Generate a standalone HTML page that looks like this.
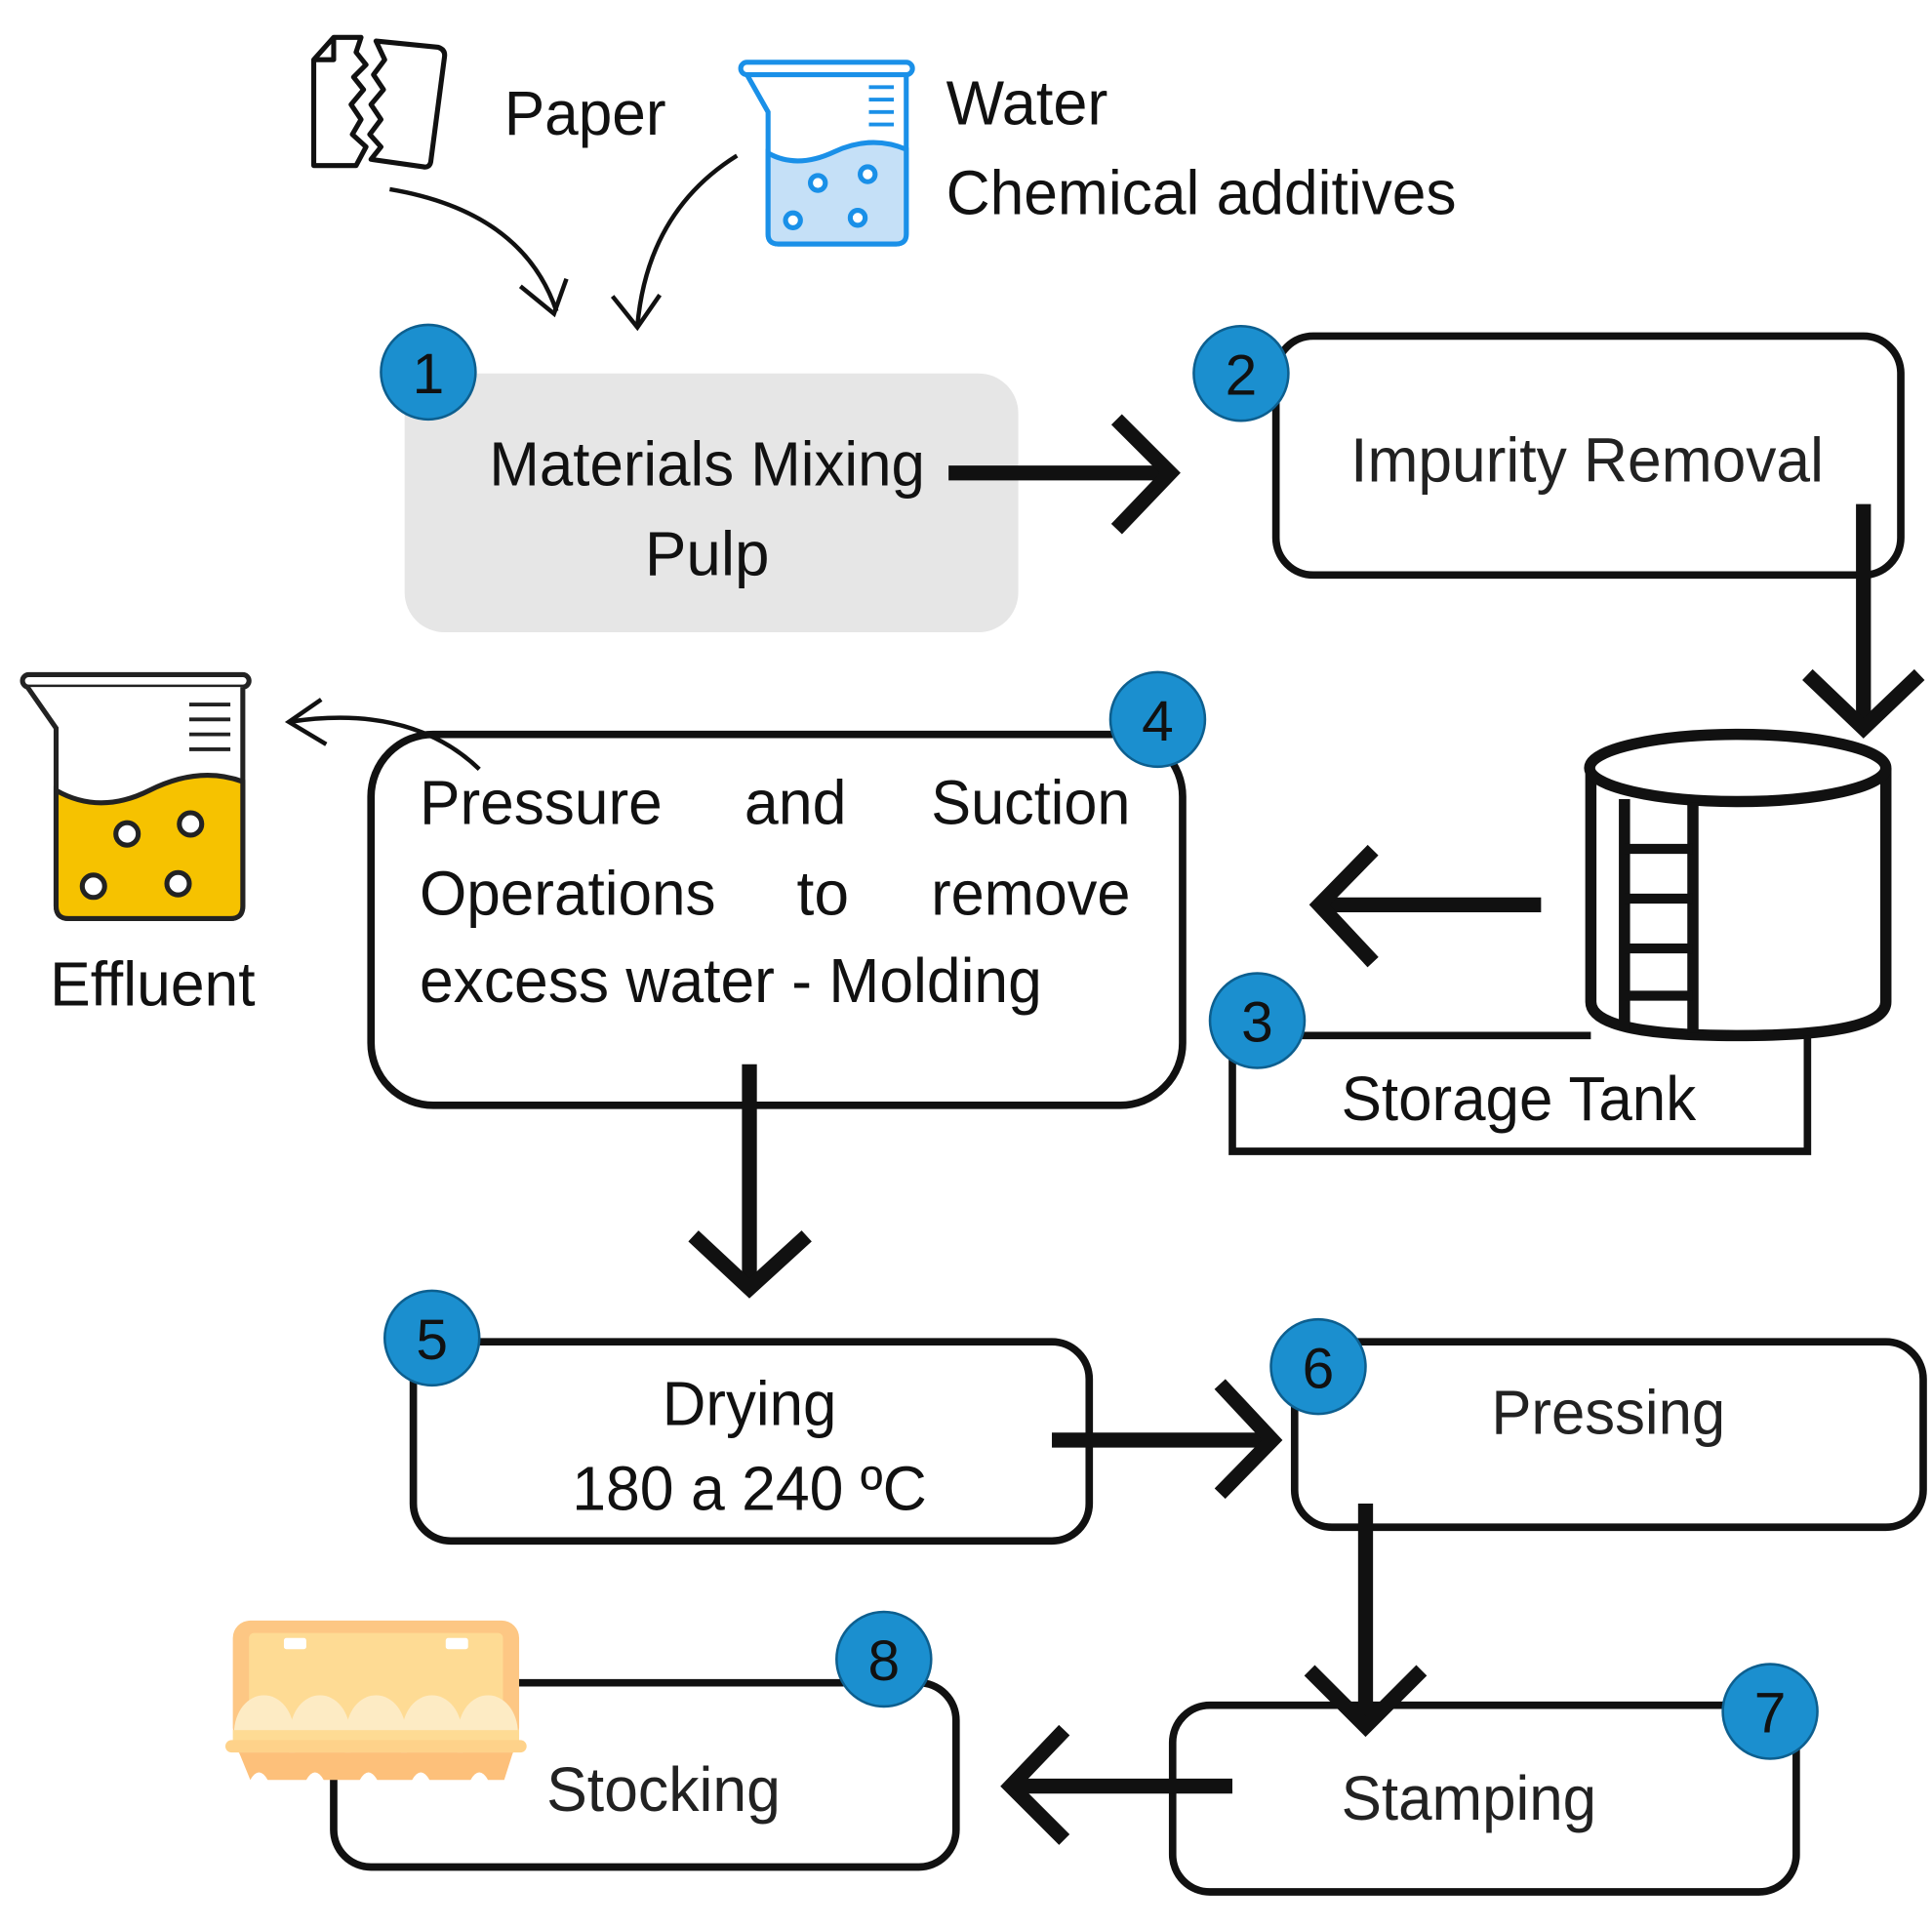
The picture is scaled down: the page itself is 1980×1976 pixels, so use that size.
<!DOCTYPE html>
<html><head><meta charset="utf-8"><style>html,body{margin:0;padding:0;background:#fff}svg{display:block}</style></head>
<body>
<svg xmlns="http://www.w3.org/2000/svg" width="1980" height="1976" viewBox="0 0 1552 1549">
<rect width="1552" height="1549" fill="#fff"/>
<g font-family="Liberation Sans, sans-serif" font-size="50" fill="#111">

<!-- Paper icon -->
<g fill="none" stroke="#111" stroke-width="4" stroke-linejoin="round">
<path d="M268 30 L290 30 L286 42 L294 52 L284 62 L292 72 L282 84 L290 96 L283 108 L294 118 L286 133 L252 133 L252 48 Z M252 48 L268 48 L268 30"/>
<path d="M302 33 L352 38 Q358 40 357 46 L346 130 Q345 135 340 134 L298 128 L306 118 L297 108 L306 96 L298 84 L308 72 L300 60 L309 48 Z"/>
</g>
<text x="405" y="108" textLength="130" lengthAdjust="spacingAndGlyphs">Paper</text>
<!-- Blue beaker -->
<g stroke="#1a90e8" stroke-width="4" fill="none">
<rect x="595" y="50" width="138" height="10" rx="5"/>
<path d="M600 60 L617 90 L617 188 Q617 196 625 196 L720 196 Q728 196 728 188 L728 60"/>
<path d="M617 123 Q640 136 670 122 Q700 108 728 120 L728 188 Q728 196 720 196 L625 196 Q617 196 617 188 Z" fill="#c5e0f7"/>
<path d="M698 70 H718 M698 80 H718 M698 90 H718 M698 100 H718" stroke-width="3"/>
<circle cx="657" cy="147" r="6" fill="#fff"/><circle cx="697" cy="140" r="6" fill="#fff"/>
<circle cx="637" cy="177" r="6" fill="#fff"/><circle cx="689" cy="175" r="6" fill="#fff"/>
</g>
<text x="760" y="100" textLength="130" lengthAdjust="spacingAndGlyphs">Water</text>
<text x="760" y="172" textLength="410" lengthAdjust="spacingAndGlyphs">Chemical additives</text>
<!-- curved thin arrows -->
<g fill="none" stroke="#111" stroke-width="3.5">
<path d="M313 152 Q420 170 447 250"/>
<path d="M418 230 L445 252 L455 224"/>
<path d="M592 125 Q520 170 512 262"/>
<path d="M492 238 L512 263 L530 237"/>
<path d="M385 618 Q330 565 232 580"/>
<path d="M258 562 L232 580 L262 598"/>
</g>

<!-- Box1 -->
<rect x="325" y="300" width="493" height="208" rx="32" fill="#e6e6e6"/>
<text x="568" y="390" text-anchor="middle" textLength="350" lengthAdjust="spacingAndGlyphs">Materials Mixing</text>
<text x="568" y="462" text-anchor="middle">Pulp</text>

<!-- Box2 -->
<rect x="1025" y="270" width="502" height="192" rx="30" fill="none" stroke="#111" stroke-width="6"/>
<text x="1275" y="387" text-anchor="middle" textLength="380" lengthAdjust="spacingAndGlyphs" fill="#222">Impurity Removal</text>

<!-- Tank -->
<g fill="#fff" stroke="#111" stroke-width="9">
<path d="M1278 617 L1278 805 Q1278 832 1396 832 Q1515 832 1515 805 L1515 617"/>
<ellipse cx="1396" cy="617" rx="119" ry="27"/>
<path d="M1305 642 L1305 828 M1360 645 L1360 830" />
<path d="M1305 682 H1360 M1305 722 H1360 M1305 762 H1360 M1305 800 H1360" stroke-width="8"/>
</g>
<!-- Box3 -->
<path d="M1278 832 L990 832 L990 925 L1452 925 L1452 832" fill="none" stroke="#111" stroke-width="6"/>
<text x="1220" y="900" text-anchor="middle" textLength="285" lengthAdjust="spacingAndGlyphs">Storage Tank</text>

<!-- Effluent beaker -->
<g stroke="#222" stroke-width="4">
<rect x="18" y="542" width="182" height="10" rx="5" fill="#fff"/>
<path d="M22 552 L45 585 L45 728 Q45 738 55 738 L185 738 Q195 738 195 728 L195 552" fill="#fff"/>
<path d="M45 635 Q80 655 120 635 Q160 615 195 628 L195 728 Q195 738 185 738 L55 738 Q45 738 45 728 Z" fill="#f6c200"/>
<path d="M152 566 H185 M152 578 H185 M152 590 H185 M152 602 H185" stroke-width="3"/>
<circle cx="102" cy="670" r="9" fill="#fff"/><circle cx="153" cy="662" r="9" fill="#fff"/>
<circle cx="75" cy="712" r="9" fill="#fff"/><circle cx="143" cy="710" r="9" fill="#fff"/>
</g>
<text x="40" y="808" textLength="165" lengthAdjust="spacingAndGlyphs">Effluent</text>

<!-- Box4 -->
<rect x="298" y="590" width="652" height="298" rx="50" fill="none" stroke="#111" stroke-width="6"/>
<text x="337" y="662" textLength="195" lengthAdjust="spacingAndGlyphs">Pressure</text>
<text x="598" y="662" textLength="82" lengthAdjust="spacingAndGlyphs">and</text>
<text x="748" y="662" textLength="160" lengthAdjust="spacingAndGlyphs">Suction</text>
<text x="337" y="735" textLength="238" lengthAdjust="spacingAndGlyphs">Operations</text>
<text x="640" y="735" textLength="42" lengthAdjust="spacingAndGlyphs">to</text>
<text x="748" y="735" textLength="160" lengthAdjust="spacingAndGlyphs">remove</text>
<text x="337" y="805" textLength="500" lengthAdjust="spacingAndGlyphs">excess water - Molding</text>

<!-- Box5 -->
<rect x="332" y="1078" width="543" height="160" rx="30" fill="none" stroke="#111" stroke-width="6"/>
<text x="602" y="1145" text-anchor="middle" textLength="140" lengthAdjust="spacingAndGlyphs">Drying</text>
<text x="602" y="1213" text-anchor="middle" textLength="285" lengthAdjust="spacingAndGlyphs">180 a 240 ºC</text>

<!-- Box6 -->
<rect x="1040" y="1078" width="505" height="149" rx="30" fill="none" stroke="#111" stroke-width="6"/>
<text x="1292" y="1152" text-anchor="middle" textLength="188" lengthAdjust="spacingAndGlyphs" fill="#222">Pressing</text>

<!-- Box7 -->
<rect x="942" y="1370" width="501" height="150" rx="30" fill="none" stroke="#111" stroke-width="6"/>
<text x="1180" y="1462" text-anchor="middle" textLength="205" lengthAdjust="spacingAndGlyphs" fill="#222">Stamping</text>

<!-- Box8 -->
<rect x="268" y="1352" width="500" height="148" rx="30" fill="none" stroke="#111" stroke-width="6"/>
<text x="533" y="1455" text-anchor="middle" textLength="188" lengthAdjust="spacingAndGlyphs" fill="#222">Stocking</text>

<!-- Egg carton -->
<g>
<rect x="187" y="1302" width="230" height="100" rx="14" fill="#fdc784"/>
<rect x="200" y="1312" width="204" height="85" rx="4" fill="#fedb94"/>
<rect x="228" y="1316" width="18" height="9" rx="2" fill="#fff"/><rect x="358" y="1316" width="18" height="9" rx="2" fill="#fff"/>
<g fill="#fdebc4">
<ellipse cx="212" cy="1392" rx="24" ry="30"/><ellipse cx="257" cy="1392" rx="24" ry="30"/><ellipse cx="302" cy="1392" rx="24" ry="30"/><ellipse cx="347" cy="1392" rx="24" ry="30"/><ellipse cx="392" cy="1392" rx="24" ry="30"/>
</g>
<rect x="187" y="1390" width="230" height="12" fill="#fedb94"/>
<rect x="181" y="1398" width="242" height="10" rx="5" fill="#fed28a"/>
<path d="M192 1408 L412 1408 L405 1430 L392 1430 Q385 1418 378 1430 L345 1430 Q338 1418 331 1430 L303 1430 Q296 1418 289 1430 L260 1430 Q253 1418 246 1430 L215 1430 Q208 1418 201 1430 Z" fill="#fdc07a"/>
</g>

<!-- Thick arrows -->
<g fill="none" stroke="#111" stroke-width="12" stroke-linecap="butt" stroke-linejoin="miter">
<path d="M762 380 L938 380"/><path d="M897 337 L940 380 L897 425"/>
<path d="M1497 405 L1497 583"/><path d="M1452 542 L1497 585 L1542 542"/>
<path d="M1238 727 L1062 727"/><path d="M1103 683 L1060 727 L1103 773"/>
<path d="M602 855 L602 1033"/><path d="M557 993 L602 1035 L648 993"/>
<path d="M845 1157 L1020 1157"/><path d="M980 1112 L1022 1157 L980 1200"/>
<path d="M1097 1208 L1097 1385"/><path d="M1052 1342 L1097 1387 L1142 1342"/>
<path d="M990 1435 L814 1435"/><path d="M855 1390 L812 1435 L855 1478"/>
</g>

<!-- Badges -->
<g stroke="#0d5f8f" stroke-width="2" fill="#1b8fcf">
<circle cx="344" cy="299" r="38"/><circle cx="997" cy="300" r="38"/>
<circle cx="1010" cy="820" r="38"/><circle cx="930" cy="578" r="38"/>
<circle cx="347" cy="1075" r="38"/><circle cx="1059" cy="1098" r="38"/>
<circle cx="1422" cy="1375" r="38"/><circle cx="710" cy="1333" r="38"/>
</g>
<g text-anchor="middle" font-size="46" fill="#111">
<text x="344" y="316">1</text><text x="997" y="317">2</text>
<text x="1010" y="837">3</text><text x="930" y="595">4</text>
<text x="347" y="1092">5</text><text x="1059" y="1115">6</text>
<text x="1422" y="1392">7</text><text x="710" y="1350">8</text>
</g>
</g>
</svg>
</body></html>
